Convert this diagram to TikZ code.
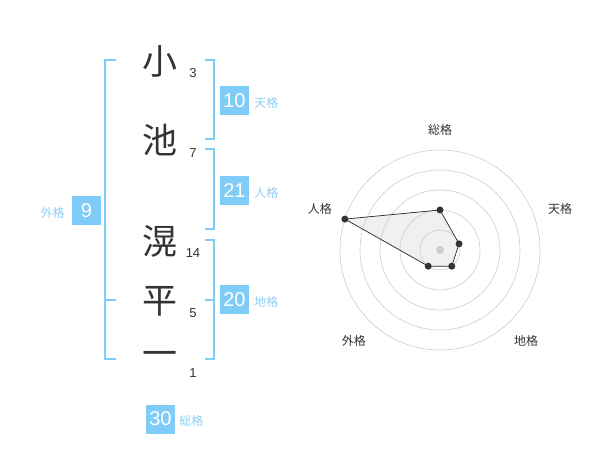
\documentclass[tikz,border=0pt]{standalone}
\usepackage{fontspec}
\setmainfont{Liberation Sans}
\newfontfamily\jp{Noto Sans CJK JP}
\usetikzlibrary{positioning}
\definecolor{kakublue}{HTML}{80CCF8}
\definecolor{kakutext}{HTML}{8CCFF5}

\begin{document}
\begin{tikzpicture}[x=1pt, y=-1pt,
  kanji/.style={font=\jp\fontsize{35}{35}\selectfont, text=black!80, inner sep=0pt},
  strokes/.style={font=\fontsize{13}{13}\selectfont, text=black!80, inner sep=0pt},
  kakubox/.style={fill=kakublue, text=white, minimum size=29pt, inner sep=0pt, font=\fontsize{20}{20}\selectfont},
  kakuname/.style={font=\jp\fontsize{12}{12}\selectfont, text=kakutext, inner sep=0pt, yshift=-2pt},
  brack/.style={draw=kakublue, line width=2pt},
  ring/.style={draw=black!20, line width=0.6pt},
  axislabel/.style={font=\jp\fontsize{12}{12}\selectfont, text=black!80, inner sep=0pt},
  dot/.style={fill=black!80, circle, inner sep=0pt, minimum size=7pt}]
\useasboundingbox (0,0) rectangle (600,470);

% name
\node[kanji] (c1) at (160,61) {小};
\node[kanji] (c2) at (160,140) {池};
\node[kanji] (c3) at (160,241) {滉};
\node[kanji] (c4) at (160,301) {平};
\node[kanji] (c5) at (160,359) {一};
\node[strokes] (n1) at (193,73) {3};
\node[strokes] (n2) at (193,153) {7};
\node[strokes] (n3) at (193,253) {14};
\node[strokes] (n4) at (193,313) {5};
\node[strokes] (n5) at (193,373) {1};

% brackets
\draw[brack] (116,60) -- (105,60) -- (105,359) -- (116,359) (105,300) -- (116,300);
\draw[brack] (205,60) -- (214,60) -- (214,139) -- (205,139);
\draw[brack] (205,149) -- (214,149) -- (214,229) -- (205,229);
\draw[brack] (205,240) -- (214,240) -- (214,359) -- (205,359) (205,300) -- (214,300);

% kaku
\node[kakubox] (ten) at (234.5,100.5) {10};
\node[kakubox] (jin) at (234.5,190.5) {21};
\node[kakubox] (chi) at (234.5,300) {20};
\node[kakubox] (gai) at (86.5,210.5) {9};
\node[kakubox] (sou) at (160.5,419) {30};
\node[kakuname, right=5pt of ten] {天格};
\node[kakuname, right=5pt of jin] {人格};
\node[kakuname, right=5pt of chi] {地格};
\node[kakuname, left=7pt of gai] {外格};
\node[kakuname, right=4pt of sou] {総格};

% radar
\begin{scope}[shift={(440,250)}, y=1pt]
\coordinate (p-sou) at (90:40);
\coordinate (p-ten) at (18:20);
\coordinate (p-chi) at (-54:20);
\coordinate (p-gai) at (-126:20);
\coordinate (p-jin) at (162:100);
\fill[black!6] (p-sou) -- (p-ten) -- (p-chi) -- (p-gai) -- (p-jin) -- cycle;
\foreach \r in {20,40,...,100} \draw[ring] (0,0) circle[radius=\r];
\draw[black!85, line width=0.7pt] (p-sou) -- (p-ten) -- (p-chi) -- (p-gai) -- (p-jin) -- cycle;
\foreach \p in {sou,ten,chi,gai,jin} \node[dot] at (p-\p) {};
\node[dot, fill=black!20, minimum size=8pt] (mid) at (0,0) {};
\node[axislabel] (r-sou) at (90:120) {総格};
\node[axislabel] (r-ten) at (19:127) {天格};
\node[axislabel] (r-jin) at (161:127) {人格};
\node[axislabel] (r-gai) at (-133.5:125) {外格};
\node[axislabel] (r-chi) at (-46.5:125) {地格};
\end{scope}
\end{tikzpicture}
\end{document}
